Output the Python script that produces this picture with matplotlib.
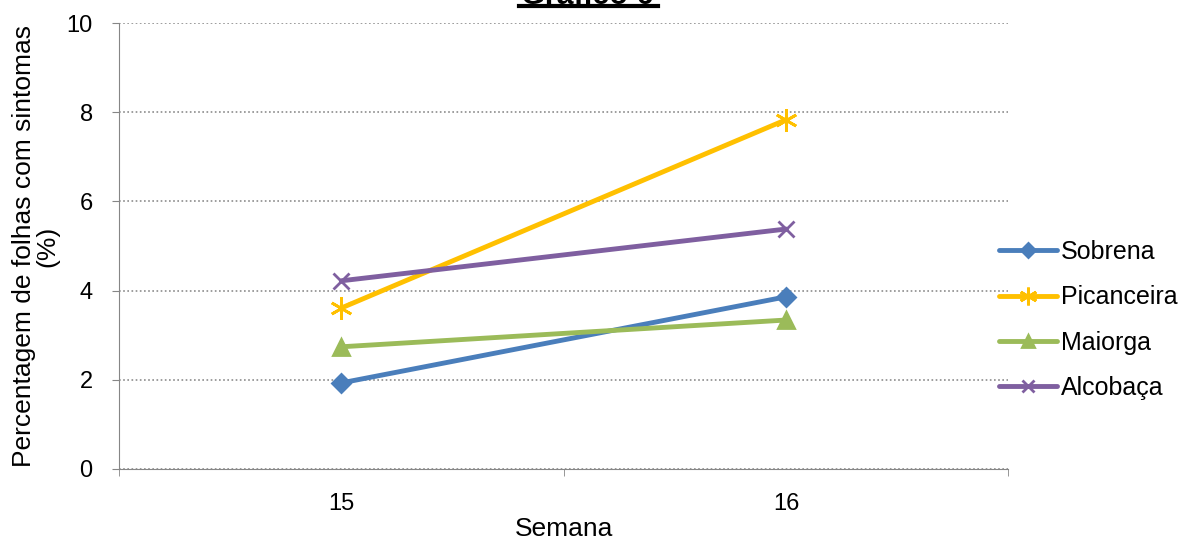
import matplotlib.pyplot as plt
from matplotlib.lines import Line2D

plt.rcParams['font.family'] = ['Liberation Sans', 'DejaVu Sans']

semanas = ['15', '16']
sobrena = [1.93, 3.86]
picanceira = [3.61, 7.83]
maiorga = [2.74, 3.34]
alcobaca = [4.22, 5.38]

series = [
    ('Sobrena', sobrena, '#4a7ebb', 'D', 9),
    ('Picanceira', picanceira, '#ffc000', (6, 2, 0), 16),
    ('Maiorga', maiorga, '#9bbb59', '^', 11),
    ('Alcobaça', alcobaca, '#7f5fa0', 'x', 11),
]

fig = plt.figure(figsize=(11.82, 5.4), dpi=100)
ax = fig.add_axes([0.1007, 0.1315, 0.7523, 0.8259])

x = list(range(len(semanas)))
for nome, vals, cor, mk, ms in series:
    ax.plot(x, vals, color=cor, lw=3.5, marker=mk, ms=ms, mew=2,
            mfc=cor, mec=cor, label=nome, solid_capstyle='round')

ax.set_xlim(-0.5, len(semanas) - 0.5)
ax.set_ylim(0, 10)
ax.set_yticks([0, 2, 4, 6, 8, 10])
ax.yaxis.grid(True, linestyle=(0, (1, 1.5)), color='#8c8c8c', lw=1.2)
ax.set_axisbelow(True)

ax.set_xticks(x)
ax.set_xticklabels(semanas)
ax.tick_params(axis='x', length=0, labelsize=17, pad=17)
ax.set_xticks([-0.5, 0.5, 1.5], minor=True)
ax.tick_params(axis='x', which='minor', length=5, color='#868686', direction='out')
ax.tick_params(axis='y', length=5, color='#868686', labelsize=17, direction='out', pad=14)

for s in ['top', 'right']:
    ax.spines[s].set_visible(False)
for s in ['left', 'bottom']:
    ax.spines[s].set_color('#868686')

ax.set_xlabel('Semana', fontsize=19, labelpad=1.5)
ax.set_ylabel('Percentagem de folhas com sintomas\n(%)', fontsize=19,
              labelpad=5, linespacing=0.95)

fig.text(0.497, 0.9926, 'Gráfico 6', fontsize=22, fontweight='bold',
         ha='center', va='baseline')
fig.add_artist(Line2D([0.439, 0.557], [0.988, 0.988], color='black', lw=3,
                      transform=fig.transFigure))

leg = ax.legend(loc='center left', bbox_to_anchor=(0.99, 0.334), frameon=False,
                fontsize=18, handlelength=2.3, handletextpad=0.15,
                labelspacing=0.85, markerscale=0.8, borderpad=0,
                borderaxespad=0)

fig.savefig('out.png', dpi=100)
